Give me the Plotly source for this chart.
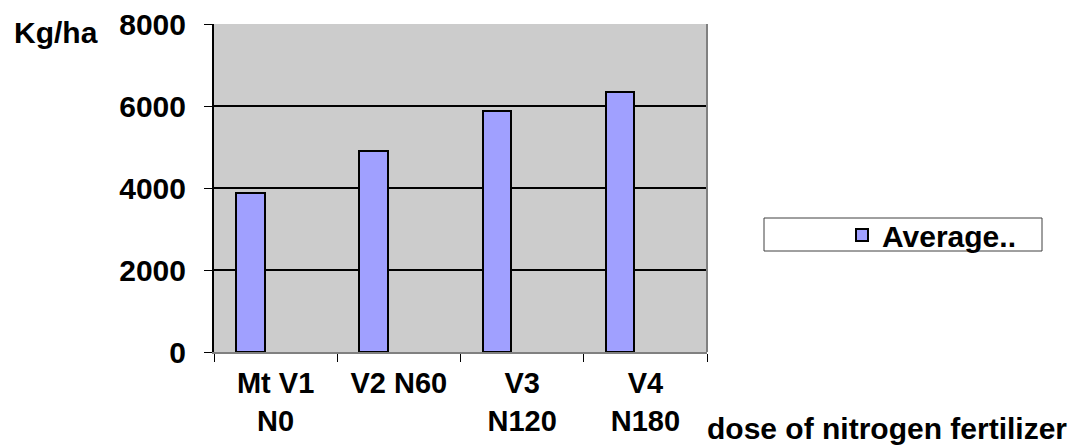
import plotly.graph_objects as go

categories = ["Mt V1<br>N0", "V2 N60", "V3<br>N120", "V4<br>N180"]
values = [3880, 4900, 5880, 6330]
series_name = "Average.."
y_ticks = [0, 2000, 4000, 6000, 8000]

FONT = "Arial, Liberation Sans, sans-serif"
FS = 30

fig = go.Figure()
fig.add_trace(go.Bar(
    x=categories, y=values, name=series_name,
    marker=dict(color="#A0A0FF", line=dict(color="#000000", width=2)),
    width=0.23, offset=-0.32,
    showlegend=True,
))

fig.update_layout(
    width=1074, height=448,
    margin=dict(l=214, r=367, t=24, b=96, autoexpand=False),
    paper_bgcolor="#FFFFFF",
    plot_bgcolor="#CCCCCC",
    font=dict(family=FONT, color="#000000"),
    showlegend=True,
    legend=dict(
        x=(842 - 214) / 493, y=(352 - 235) / 328, xanchor="left", yanchor="middle",
        bgcolor="rgba(0,0,0,0)", borderwidth=0, itemwidth=30,
        font=dict(family=FONT, size=FS, color="#000000", weight="bold"),
    ),
    bargap=0,
)

fig.update_xaxes(
    type="category",
    automargin=False,
    tickson="boundaries",
    ticks="outside", ticklen=8, tickcolor="#000000", tickwidth=1,
    showline=True, linecolor="#808080", linewidth=2, mirror=False,
    showgrid=False,
    tickfont=dict(family=FONT, size=29, color="#000000", weight="bold"),
    ticklabelstandoff=4,
    range=[-0.5, 3.5],
)
fig.update_yaxes(
    automargin=False,
    range=[0, 8000], tickvals=y_ticks,
    ticks="outside", ticklen=8, tickcolor="#000000",
    showline=True, linecolor="#000000", linewidth=2,
    showgrid=True, gridcolor="#000000", gridwidth=2,
    zeroline=False,
    tickfont=dict(family=FONT, size=FS, color="#000000", weight="bold"),
    ticklabelstandoff=12,
)

# plot border on right side
fig.add_shape(type="line", xref="paper", yref="paper", x0=1, x1=1, y0=0, y1=1,
              line=dict(color="#808080", width=2))
# legend box
fig.add_shape(type="rect", xref="paper", yref="paper",
              x0=(764 - 214) / 493, x1=(1042 - 214) / 493,
              y0=(352 - 251) / 328, y1=(352 - 218) / 328,
              line=dict(color="#404040", width=1), fillcolor="#FFFFFF", layer="below")

fig.add_annotation(text="Kg/ha", xref="paper", yref="paper",
                   x=-(214 - 56) / 493, y=(352 - 32) / 328, showarrow=False,
                   xanchor="center", yanchor="middle",
                   font=dict(family=FONT, size=FS, color="#000000", weight="bold"))
fig.add_annotation(text="dose of nitrogen fertilizer", xref="paper", yref="paper",
                   x=(887 - 214) / 493, y=-(428 - 352) / 328, showarrow=False,
                   xanchor="center", yanchor="middle",
                   font=dict(family=FONT, size=FS, color="#000000", weight="bold"))

fig.write_html("out.html")
